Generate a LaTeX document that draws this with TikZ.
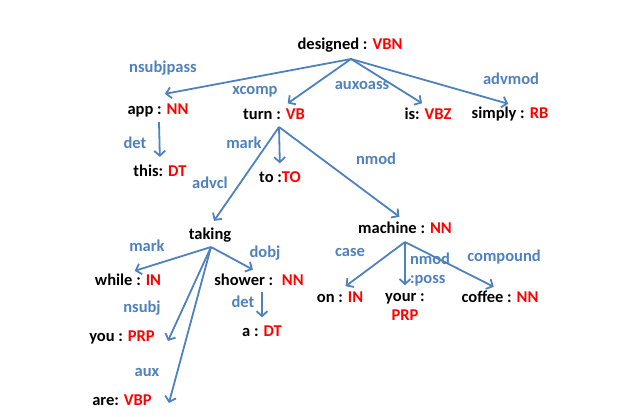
\documentclass[tikz,border=0pt]{standalone}
\usepackage{fontspec}
\setmainfont{Carlito}
\usetikzlibrary{arrows.meta, positioning}
\definecolor{depblue}{HTML}{4F81BD}
\newcommand{\tg}[1]{\textcolor{red}{#1}}

\begin{document}
\begin{tikzpicture}[x=1pt, y=-1pt,
  word/.style={inner sep=1pt, font=\fontsize{16.5}{19}\selectfont\bfseries},
  rel/.style={inner sep=1pt, text=depblue, font=\fontsize{16.5}{19}\selectfont\bfseries},
  dep/.style={draw=depblue, line width=1.8pt, -{Straight Barb[length=5pt,width=11pt]}, shorten >=7pt}]

  \useasboundingbox (0,0) rectangle (630,416);

  % words
  \node[word] (designed) at (350,45) {designed : \tg{VBN}};
  \node[word] (app) at (158,110) {app : \tg{NN}};
  \node[word] (turn) at (274,114) {turn : \tg{VB}};
  \node[word] (is) at (428,114) {is: \tg{VBZ}};
  \node[word] (simply) at (510,114) {simply : \tg{RB}};
  \node[word] (this) at (160,171) {this: \tg{DT}};
  \node[word] (to) at (280,177) {to :\tg{TO}};
  \node[word] (taking) at (210,235) {taking};
  \node[word] (machine) at (405,228) {machine : \tg{NN}};
  \node[word] (while) at (128,280) {while : \tg{IN}};
  \node[word] (shower) at (259,280) {shower : ~\tg{NN}};
  \node[word] (a) at (262,331) {a : \tg{DT}};
  \node[word] (you) at (122,337) {you : \tg{PRP}};
  \node[word] (are) at (122,400) {are: \tg{VBP}};
  \node[word] (on) at (340,297) {on : \tg{IN}};
  \node[word, align=center] (your) at (405,307) {your :\\\tg{PRP}};
  \node[word] (coffee) at (500,297) {coffee : \tg{NN}};

  % relation labels
  \node[rel] (l-nsubjpass) at (163,68) {nsubjpass};
  \node[rel] (l-xcomp) at (255,92) {xcomp};
  \node[rel] (l-auxoass) at (362,85) {auxoass};
  \node[rel] (l-advmod) at (511,79) {advmod};
  \node[rel] (l-det1) at (135,143) {det};
  \node[rel] (l-mark1) at (244,143) {mark};
  \node[rel] (l-advcl) at (210,183) {advcl};
  \node[rel] (l-nmod1) at (376,159) {nmod};
  \node[rel] (l-mark2) at (147,246) {mark};
  \node[rel] (l-dobj) at (265,253) {dobj};
  \node[rel] (l-det2) at (243,302) {det};
  \node[rel] (l-nsubj) at (142,308) {nsubj};
  \node[rel] (l-aux) at (147,372) {aux};
  \node[rel] (l-case) at (350,252) {case};
  \node[rel, align=left] (l-nmod2) at (430,270) {nmod\\:poss};
  \node[rel] (l-compound) at (504,257) {compound};

  % feet of the heads
  \coordinate (designed-ft) at (351,59);
  \coordinate (app-ft) at (159,122);
  \coordinate (turn-ft) at (279,127);
  \coordinate (taking-ft) at (211,247);
  \coordinate (machine-ft) at (405,242);
  \coordinate (shower-ft) at (262,292);

  % dependencies
  \draw[dep] (designed-ft) -- ([yshift=7pt]app.north);
  \draw[dep] (designed-ft) -- ([xshift=8pt]turn.north);
  \draw[dep] (designed-ft) -- (is.north);
  \draw[dep] (designed-ft) -- ([xshift=5pt]simply.north);
  \draw[dep] (app-ft) -- (this.north);
  \draw[dep] (turn-ft) -- (to.north);
  \draw[dep] (turn-ft) -- (taking.north);
  \draw[dep] (turn-ft) -- (machine.north);
  \draw[dep] (taking-ft) -- (while.north);
  \draw[dep] (taking-ft) -- (shower.north);
  \draw[dep, shorten >=0pt] (taking-ft) -- ([xshift=12pt,yshift=-4pt]you.east);
  \draw[dep, shorten >=0pt] (taking-ft) -- ([xshift=16pt,yshift=-3pt]are.east);
  \draw[dep] (shower-ft) -- (a.north);
  \draw[dep] (machine-ft) -- (on.north);
  \draw[dep] (machine-ft) -- (your.north);
  \draw[dep] (machine-ft) -- (coffee.north);
\end{tikzpicture}
\end{document}
